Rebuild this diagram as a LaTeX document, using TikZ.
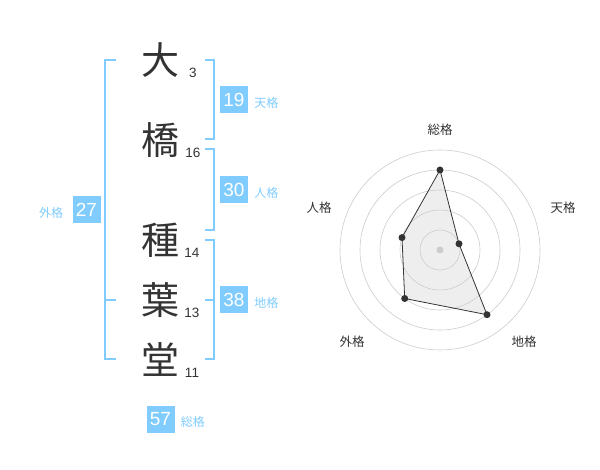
\documentclass[tikz,border=0pt]{standalone}
\usepackage{fontspec}
\setmainfont{Liberation Sans}
\newfontfamily\jpfont{Noto Sans CJK JP}
\usepackage{tikz}
\usetikzlibrary{positioning,calc}
\usepackage{xcolor}
\definecolor{kakublue}{RGB}{128,204,255}
\definecolor{inkgray}{RGB}{51,51,51}
\definecolor{ringgray}{RGB}{204,204,204}
\definecolor{areagray}{RGB}{238,238,238}

\begin{document}
\begin{tikzpicture}[x=1pt, y=-1pt,
        kanji/.style={font=\jpfont\fontsize{38}{38}\selectfont, text=inkgray, inner sep=0pt},
        strokes/.style={font=\fontsize{13.5}{13.5}\selectfont, text=inkgray, inner sep=0pt},
        badge/.style={fill=kakublue, text=white, minimum width=28pt, minimum height=27pt,
                      inner sep=0pt, font=\fontsize{19}{19}\selectfont},
        kaku/.style={font=\jpfont\fontsize{12}{12}\selectfont, text=kakublue, inner sep=0pt, yshift=-3pt},
        bracket/.style={draw=kakublue, line width=2pt},
        ring/.style={draw=ringgray, line width=0.6pt},
        axislabel/.style={font=\jpfont\fontsize{12.5}{12.5}\selectfont, text=inkgray, inner sep=0pt},
        dot/.style={circle, fill=inkgray, inner sep=0pt, minimum size=7pt}
      ]
        \useasboundingbox (0,0) rectangle (600,470);

        \node[kanji] (dai) at (160, 60) {大};
        \node[kanji] (hashi) at (160, 140) {橋};
        \node[kanji] (tane) at (160, 240) {種};
        \node[kanji] (ha) at (160, 300) {葉};
        \node[kanji] (dou) at (160, 360) {堂};
        \node[strokes] (ndai) at (193, 73) {3};
        \node[strokes] (nhashi) at (193, 153) {16};
        \node[strokes] (ntane) at (192, 253) {14};
        \node[strokes] (nha) at (192, 313) {13};
        \node[strokes] (ndou) at (192, 373) {11};

        \draw[bracket] (116, 60) -- (105, 60) -- (105, 359) -- (116, 359);
        \draw[bracket] (105, 300) -- (116, 300);
        \draw[bracket] (205, 60) -- (214, 60) -- (214, 139) -- (205, 139);
        \draw[bracket] (205, 149) -- (214, 149) -- (214, 230) -- (205, 230);
        \draw[bracket] (205, 240) -- (214, 240) -- (214, 359) -- (205, 359);
        \draw[bracket] (214, 300) -- (205, 300);

        \node[badge] (ten) at (234, 100) {19};
        \node[kaku, right=6pt of ten] {天格};
        \node[badge] (jin) at (234, 190) {30};
        \node[kaku, right=6pt of jin] {人格};
        \node[badge] (chi) at (234, 300) {38};
        \node[kaku, right=6pt of chi] {地格};
        \node[badge] (gai) at (86.5, 210) {27};
        \node[kaku, left=9pt of gai] {外格};
        \node[badge] (sou) at (160.5, 419) {57};
        \node[kaku, right=6pt of sou] {総格};

        \coordinate (c) at (440, 250);
        \coordinate (psou) at (440, 170);
        \coordinate (pten) at (459, 243.8);
        \coordinate (pchi) at (487, 314.7);
        \coordinate (pgai) at (404.7, 298.5);
        \coordinate (pjin) at (402, 237.6);
        \fill[areagray] (psou) -- (pten) -- (pchi) -- (pgai) -- (pjin) -- cycle;
        \foreach \r in {20, 40, 60, 80, 100}
          \draw[ring] (c) circle [radius=\r pt];
        \fill[ringgray] (c) circle [radius=3.5pt];
        \draw[inkgray, line width=0.8pt]
          (psou) -- (pten) -- (pchi) -- (pgai) -- (pjin) -- cycle;
        \foreach \p in {psou, pten, pchi, pgai, pjin}
          \node[dot] at (\p) {};

        \node[axislabel] (lsou) at (440, 130) {総格};
        \node[axislabel] (lten) at (563, 208) {天格};
        \node[axislabel] (lchi) at (524, 342) {地格};
        \node[axislabel] (lgai) at (352, 342) {外格};
        \node[axislabel] (ljin) at (319, 208) {人格};
      \end{tikzpicture}
\end{document}
